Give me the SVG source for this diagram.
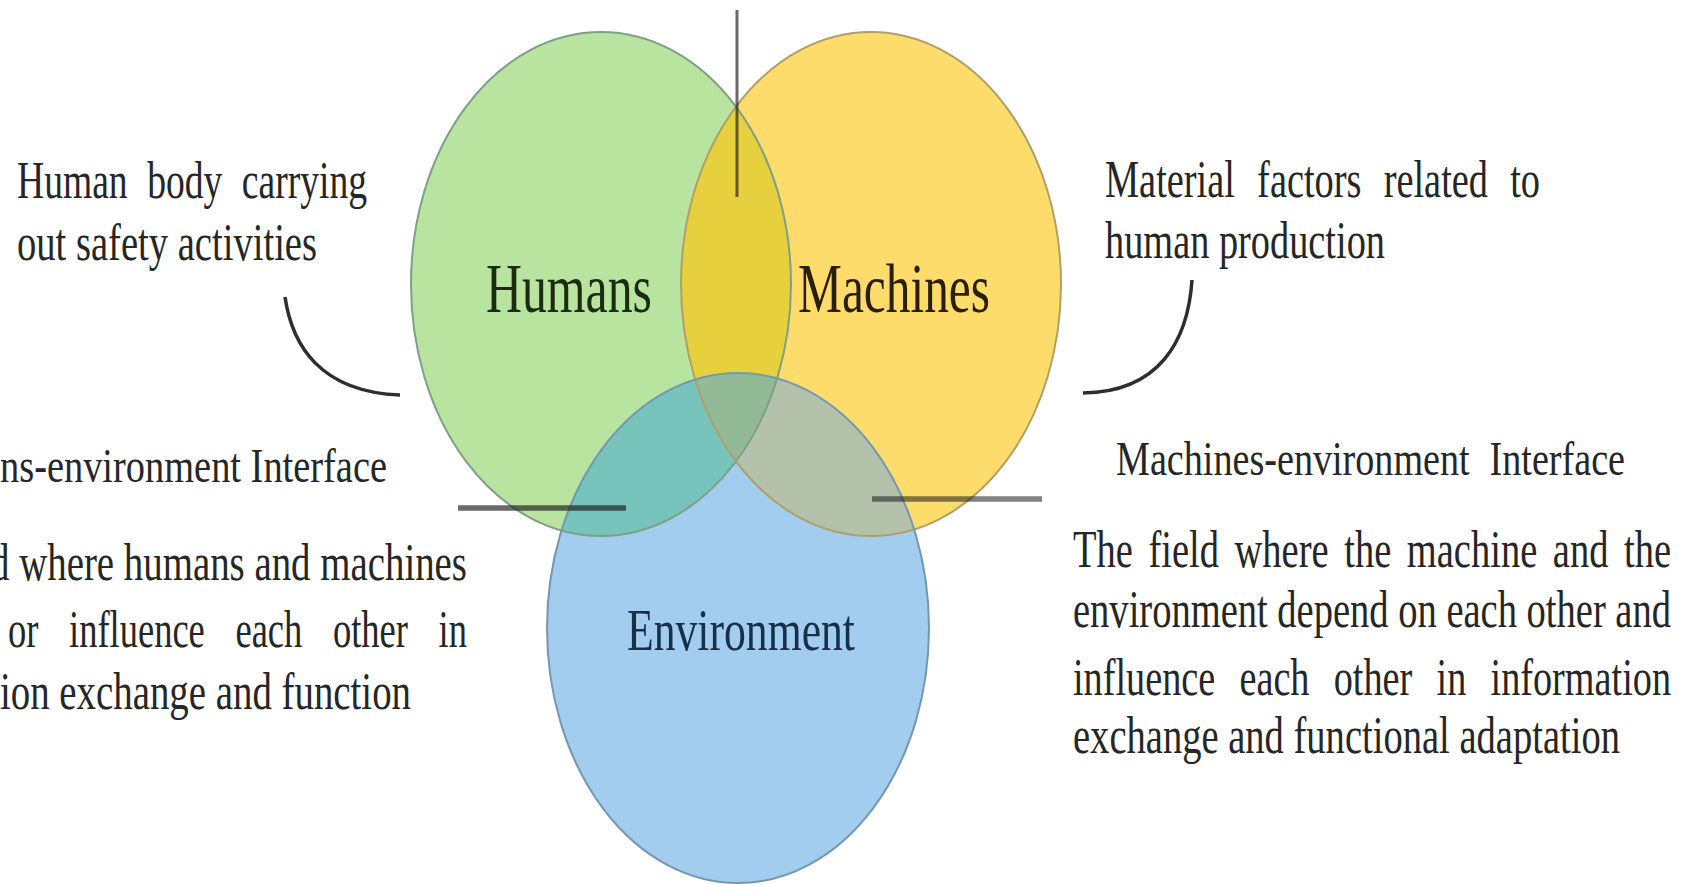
<svg xmlns="http://www.w3.org/2000/svg" width="1688" height="884" viewBox="0 0 1688 884">
<style>
.body{font-family:"Liberation Serif","Times New Roman",serif;font-size:39px;fill:#262626}
.head{font-family:"Liberation Serif","Times New Roman",serif;font-size:38.5px;fill:#262626}
.lbl{font-family:"Liberation Serif","Times New Roman",serif}
.edge{fill:none;stroke-width:2}
.conn{fill:none;stroke:#2e2e2e;stroke-width:3.5;stroke-linecap:butt}
.bar{stroke:#1a1a1a;stroke-width:5.5;stroke-opacity:0.65}
</style>
<defs>
<ellipse id="eG" cx="601" cy="284" rx="190" ry="252"/>
<ellipse id="eY" cx="871" cy="284" rx="190" ry="252"/>
<ellipse id="eB" cx="738" cy="628" rx="191" ry="255"/>
<clipPath id="cG"><use href="#eG"/></clipPath>
<clipPath id="cY"><use href="#eY"/></clipPath>
</defs>
<rect width="1688" height="884" fill="#ffffff"/>
<g id="fills">
<use href="#eG" fill="#b8e4a0"/>
<use href="#eY" fill="#fedc6c"/>
<use href="#eB" fill="#a3cdee"/>
<use href="#eY" fill="#e6d03e" clip-path="url(#cG)"/>
<use href="#eB" fill="#77c4bc" clip-path="url(#cG)"/>
<use href="#eB" fill="#b4c2ac" clip-path="url(#cY)"/>
<g clip-path="url(#cY)"><use href="#eB" fill="#93ba96" clip-path="url(#cG)"/></g>
</g>
<g id="humans">
<use href="#eG" class="edge" stroke="#7f9f88"/>
<text class="lbl" transform="translate(486 312) scale(1 1.24)" font-size="56.4" fill="#1c2c10" textLength="166" lengthAdjust="spacingAndGlyphs">Humans</text>
</g>
<g id="machines">
<use href="#eY" class="edge" stroke="#aea068"/>
<text class="lbl" transform="translate(798 312) scale(1 1.417)" font-size="49.4" fill="#2a1e06" textLength="192" lengthAdjust="spacingAndGlyphs">Machines</text>
</g>
<g id="environment">
<use href="#eB" class="edge" stroke="#7498b0"/>
<text class="lbl" transform="translate(627 650) scale(1 1.373)" font-size="43.7" fill="#17304a" textLength="228" lengthAdjust="spacingAndGlyphs">Environment</text>
</g>
<g id="connectors">
<line class="bar" x1="737" y1="10" x2="737" y2="197" style="stroke-width:3"/>
<line class="bar" x1="458" y1="508" x2="626" y2="508"/>
<line class="bar" x1="872" y1="499" x2="1042" y2="499" style="stroke-opacity:0.55"/>
<path class="conn" d="M285 297 C292 345 320 392 400 395"/>
<path class="conn" d="M1192 280 C1188 340 1160 392 1083 393"/>
</g>
<g id="human-note">
<text class="body" transform="translate(17 198) scale(1 1.333)" textLength="350" lengthAdjust="spacingAndGlyphs" word-spacing="10.5">Human body carrying</text>
<text class="body" transform="translate(17 260) scale(1 1.333)" textLength="300" lengthAdjust="spacingAndGlyphs">out safety activities</text>
</g>
<g id="machine-note">
<text class="body" transform="translate(1105 197) scale(1 1.333)" textLength="435" lengthAdjust="spacingAndGlyphs" word-spacing="12.75">Material factors related to</text>
<text class="body" transform="translate(1105 258) scale(1 1.333)" textLength="280" lengthAdjust="spacingAndGlyphs">human production</text>
</g>
<g id="humans-environment-interface">
<text class="head" transform="translate(0 482) scale(1 1.247)" textLength="387" lengthAdjust="spacingAndGlyphs">ns-environment Interface</text>
<text class="body" transform="translate(-10 580) scale(1 1.333)" textLength="477" lengthAdjust="spacingAndGlyphs">d where humans and machines</text>
<text class="body" transform="translate(8 647) scale(1 1.333)" textLength="459" lengthAdjust="spacingAndGlyphs" word-spacing="23">or influence each other in</text>
<text class="body" transform="translate(0 709) scale(1 1.333)" textLength="411" lengthAdjust="spacingAndGlyphs">ion exchange and function</text>
</g>
<g id="machines-environment-interface">
<text class="head" transform="translate(1116 475) scale(1 1.247)" textLength="509" lengthAdjust="spacingAndGlyphs" word-spacing="10.4">Machines-environment Interface</text>
<text class="body" transform="translate(1073 567) scale(1 1.333)" textLength="598" lengthAdjust="spacingAndGlyphs" word-spacing="6">The field where the machine and the</text>
<text class="body" transform="translate(1073 627) scale(1 1.333)" textLength="598" lengthAdjust="spacingAndGlyphs">environment depend on each other and</text>
<text class="body" transform="translate(1073 695) scale(1 1.333)" textLength="598" lengthAdjust="spacingAndGlyphs" word-spacing="15">influence each other in information</text>
<text class="body" transform="translate(1073 753) scale(1 1.333)" textLength="547" lengthAdjust="spacingAndGlyphs">exchange and functional adaptation</text>
</g>
</svg>
